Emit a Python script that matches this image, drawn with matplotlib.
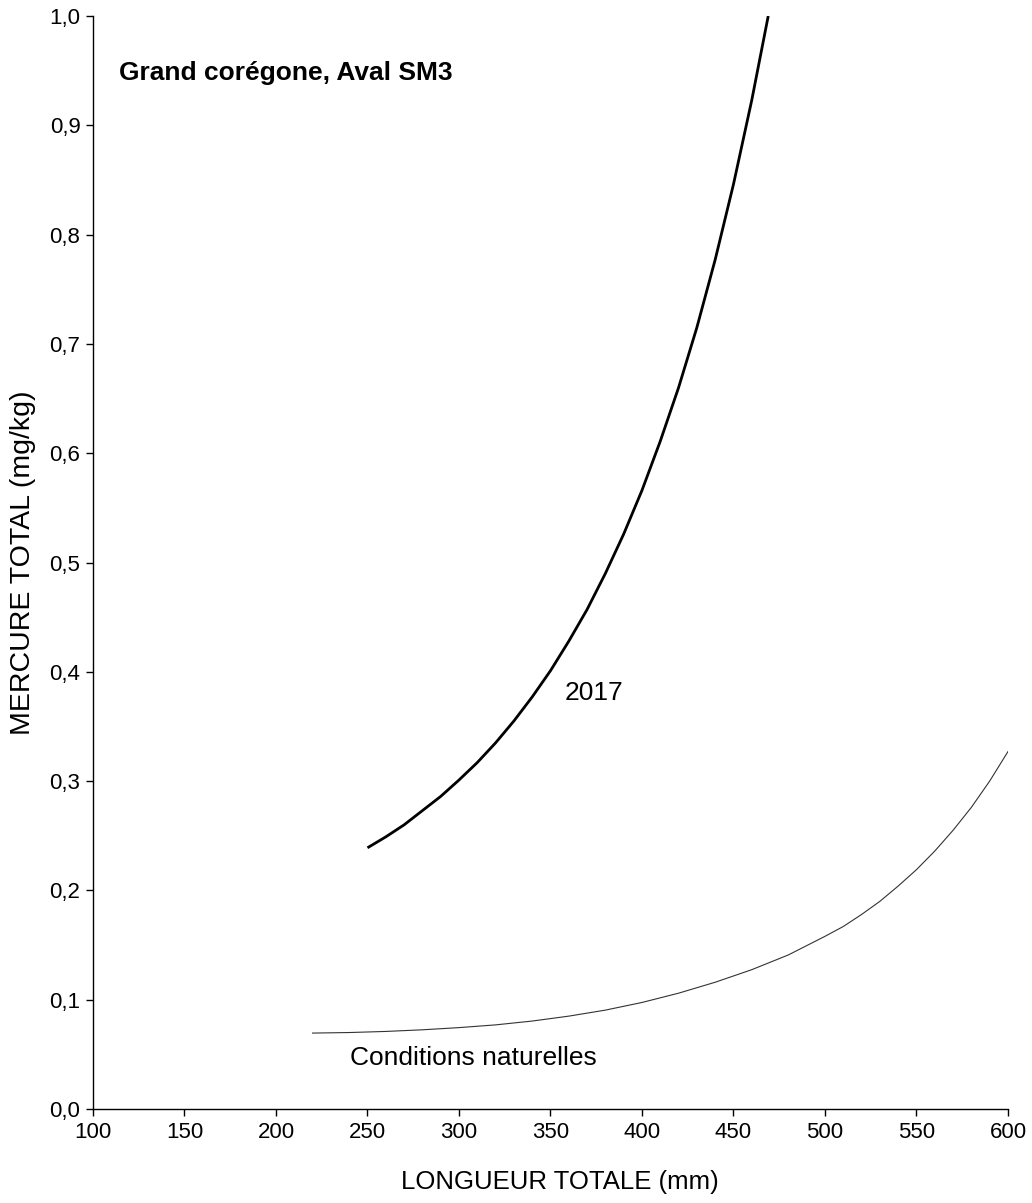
import matplotlib
matplotlib.use("Agg")
import matplotlib.pyplot as plt
from matplotlib.ticker import FuncFormatter, MultipleLocator

plt.rcParams['font.family'] = ['Liberation Sans', 'DejaVu Sans']

# Mercury vs. length curves (mm, mg/kg)
x_2017 = [250, 260, 270, 280, 290, 300, 310, 320, 330, 340, 350, 360, 370,
          380, 390, 400, 410, 420, 430, 440, 450, 460, 469]
y_2017 = [0.239, 0.249, 0.260, 0.273, 0.286, 0.301, 0.317, 0.335, 0.355, 0.377,
          0.401, 0.428, 0.457, 0.490, 0.526, 0.566, 0.611, 0.660, 0.715, 0.777,
          0.846, 0.923, 1.0]

x_nat = [220, 240, 260, 280, 300, 320, 340, 360, 380, 400, 420, 440, 460,
         480, 500, 510, 520, 530, 540, 550, 560, 570, 580, 590, 600]
y_nat = [0.0695, 0.0700, 0.0710, 0.0725, 0.0745, 0.0770, 0.0805, 0.0850, 0.0905,
         0.0975, 0.106, 0.116, 0.1275, 0.141, 0.158, 0.167, 0.178, 0.190, 0.204,
         0.219, 0.236, 0.255, 0.276, 0.300, 0.327]

x_ticks = [100, 150, 200, 250, 300, 350, 400, 450, 500, 550, 600]

fig = plt.figure(figsize=(10.32, 12.03), dpi=100)
ax = fig.add_axes([0.0901, 0.0781, 0.8866, 0.9086])

ax.plot(x_2017, y_2017, color='black', lw=2.0, solid_capstyle='butt')
ax.plot(x_nat, y_nat, color='#333333', lw=0.8)

ax.set_xlim(100, 600)
ax.set_ylim(0, 1.0)
ax.set_xticks(x_ticks)
ax.yaxis.set_major_locator(MultipleLocator(0.1))
ax.yaxis.set_major_formatter(FuncFormatter(lambda v, p: f"{v:.1f}".replace('.', ',')))

for s in ['top', 'right']:
    ax.spines[s].set_visible(False)
for s in ['left', 'bottom']:
    ax.spines[s].set_linewidth(1.0)
ax.tick_params(direction='out', length=5, width=1.0, labelsize=16, pad=4)

ax.set_xlabel('LONGUEUR TOTALE (mm)', fontsize=18.5, labelpad=20)
ax.xaxis.label.set_x(0.51)
ax.set_ylabel('MERCURE TOTAL (mg/kg)', fontsize=20.5, labelpad=10)

ax.text(114, 0.948, 'Grand corégone, Aval SM3', fontsize=19, fontweight='bold',
        ha='left', va='center')
ax.text(374, 0.381, '2017', fontsize=19, ha='center', va='center')
ax.text(308, 0.047, 'Conditions naturelles', fontsize=19, ha='center', va='center')

fig.savefig('out.png', dpi=100)
